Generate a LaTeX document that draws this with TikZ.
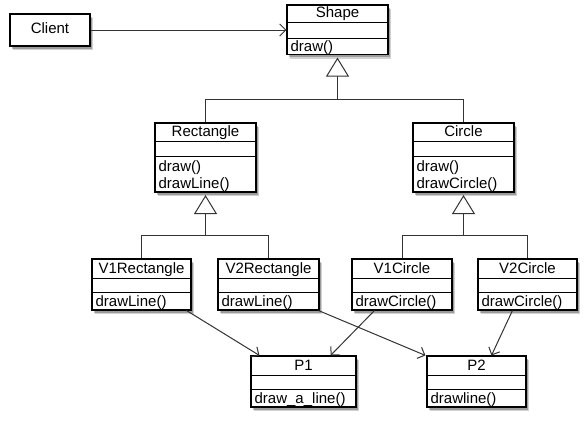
\documentclass[tikz,border=0pt]{standalone}
\usepackage{fontspec}
\setmainfont{Liberation Sans}
\usetikzlibrary{arrows.meta,shadows,fit,calc}

\tikzset{
  classbox/.style={draw=black, line width=1.1pt, fill=white, inner sep=0pt,
    drop shadow={shadow xshift=3pt, shadow yshift=-4pt, fill=black, opacity=0.18},
    drop shadow={shadow xshift=1.8pt, shadow yshift=-2.5pt, fill=black, opacity=0.25}},
  sepline/.style={draw=black, line width=1pt},
  lbl/.style={inner sep=0pt, font=\fontsize{15}{18}\selectfont},
  conn/.style={draw=black!80, line width=1pt},
  dep/.style={conn, -{Straight Barb[length=6pt,width=12pt]}},
  inh/.style={conn, shorten >=2.5pt, -{Triangle[fill=white,length=19pt,width=23pt]}},
}

% #1 name, #2 x1, #3 y1, #4 x2, #5 y2, #6 sep1, #7 sep2, #8 title
\newcommand\umlclass[8]{%
  \node[classbox, fit={(#2,#3) (#4,#5)}] (#1) {};
  \draw[sepline] (#2,#6) -- (#4,#6) (#2,#7) -- (#4,#7);
  \node[lbl, anchor=base] (#1-title) at ({(#2+#4)/2},{#6-4.8}) {#8};
}

\begin{document}
\begin{tikzpicture}[x=1pt,y=-1pt]
  \fill[white] (0,0) rectangle (587,423);
  \useasboundingbox (0,0) rectangle (587,423);

  % Client
  \node[classbox, fit={(10,14) (90,46)}] (client) {};
  \node[lbl, anchor=base] (client-title) at (50,34) {Client};

  % classes
  \umlclass{shape}{287}{5}{388}{54.5}{22.7}{38.3}{Shape}
  \node[lbl, anchor=base west] (shape-m1) at ([xshift=4pt,yshift=4pt]shape.south west) {draw()};

  \umlclass{rect}{155}{123}{256}{192}{141.7}{156.7}{Rectangle}
  \node[lbl, anchor=base west] (rect-m1) at ([xshift=4pt,yshift=21.5pt]rect.south west) {draw()};
  \node[lbl, anchor=base west] (rect-m2) at ([xshift=4pt,yshift=4pt]rect.south west) {drawLine()};

  \umlclass{circ}{413}{123}{514}{192}{141.7}{156.7}{Circle}
  \node[lbl, anchor=base west] (circ-m1) at ([xshift=4pt,yshift=21.5pt]circ.south west) {draw()};
  \node[lbl, anchor=base west] (circ-m2) at ([xshift=4pt,yshift=4pt]circ.south west) {drawCircle()};

  \umlclass{v1r}{92}{259}{191}{310}{278}{292}{V1Rectangle}
  \node[lbl, anchor=base west] (v1r-m1) at ([xshift=4pt,yshift=4pt]v1r.south west) {drawLine()};

  \umlclass{v2r}{218}{259}{319}{310}{278}{292}{V2Rectangle}
  \node[lbl, anchor=base west] (v2r-m1) at ([xshift=4pt,yshift=4pt]v2r.south west) {drawLine()};

  \umlclass{v1c}{352}{259}{452}{310}{278}{292}{V1Circle}
  \node[lbl, anchor=base west] (v1c-m1) at ([xshift=4pt,yshift=4pt]v1c.south west) {drawCircle()};

  \umlclass{v2c}{478}{259}{577}{310}{278}{292}{V2Circle}
  \node[lbl, anchor=base west] (v2c-m1) at ([xshift=4pt,yshift=4pt]v2c.south west) {drawCircle()};

  \umlclass{p1}{251}{356}{356}{407}{375}{389}{P1}
  \node[lbl, anchor=base west] (p1-m1) at ([xshift=4pt,yshift=4pt]p1.south west) {draw\_a\_line()};

  \umlclass{p2}{427}{356}{526}{407}{375}{389}{P2}
  \node[lbl, anchor=base west] (p2-m1) at ([xshift=4pt,yshift=4pt]p2.south west) {drawline()};

  % association Client -> Shape
  \draw[dep] (client.east) -- (client.east -| shape.west);

  % inheritance: Rectangle, Circle -> Shape
  \coordinate (jsy) at (0,99.3);
  \coordinate (js) at (shape.south |- jsy);
  \draw[conn] (rect.north) |- (js) -| (circ.north);
  \draw[inh] (js) -- (shape.south);

  % inheritance: V1/V2 Rectangle -> Rectangle
  \coordinate (jry) at (0,235.5);
  \coordinate (jr) at (rect.south |- jry);
  \draw[conn] (v1r.north) |- (jr) -| (v2r.north);
  \draw[inh] (jr) -- (rect.south);

  % inheritance: V1/V2 Circle -> Circle
  \coordinate (jc) at (circ.south |- jry);
  \draw[conn] (v1c.north) |- (jc) -| (v2c.north);
  \draw[inh] (jc) -- (circ.south);

  % dependencies
  \draw[dep] ([xshift=-5pt]v1r.south east) -- ([xshift=9pt]p1.north west);
  \draw[dep] ([xshift=-1pt]v2r.south east) -- ([xshift=-1pt]p2.north west);
  \draw[dep] ([xshift=23pt]v1c.south west) -- ([xshift=-26pt]p1.north east);
  \draw[dep] ([xshift=35pt]v2c.south west) -- ([xshift=65pt]p2.north west);
\end{tikzpicture}
\end{document}
